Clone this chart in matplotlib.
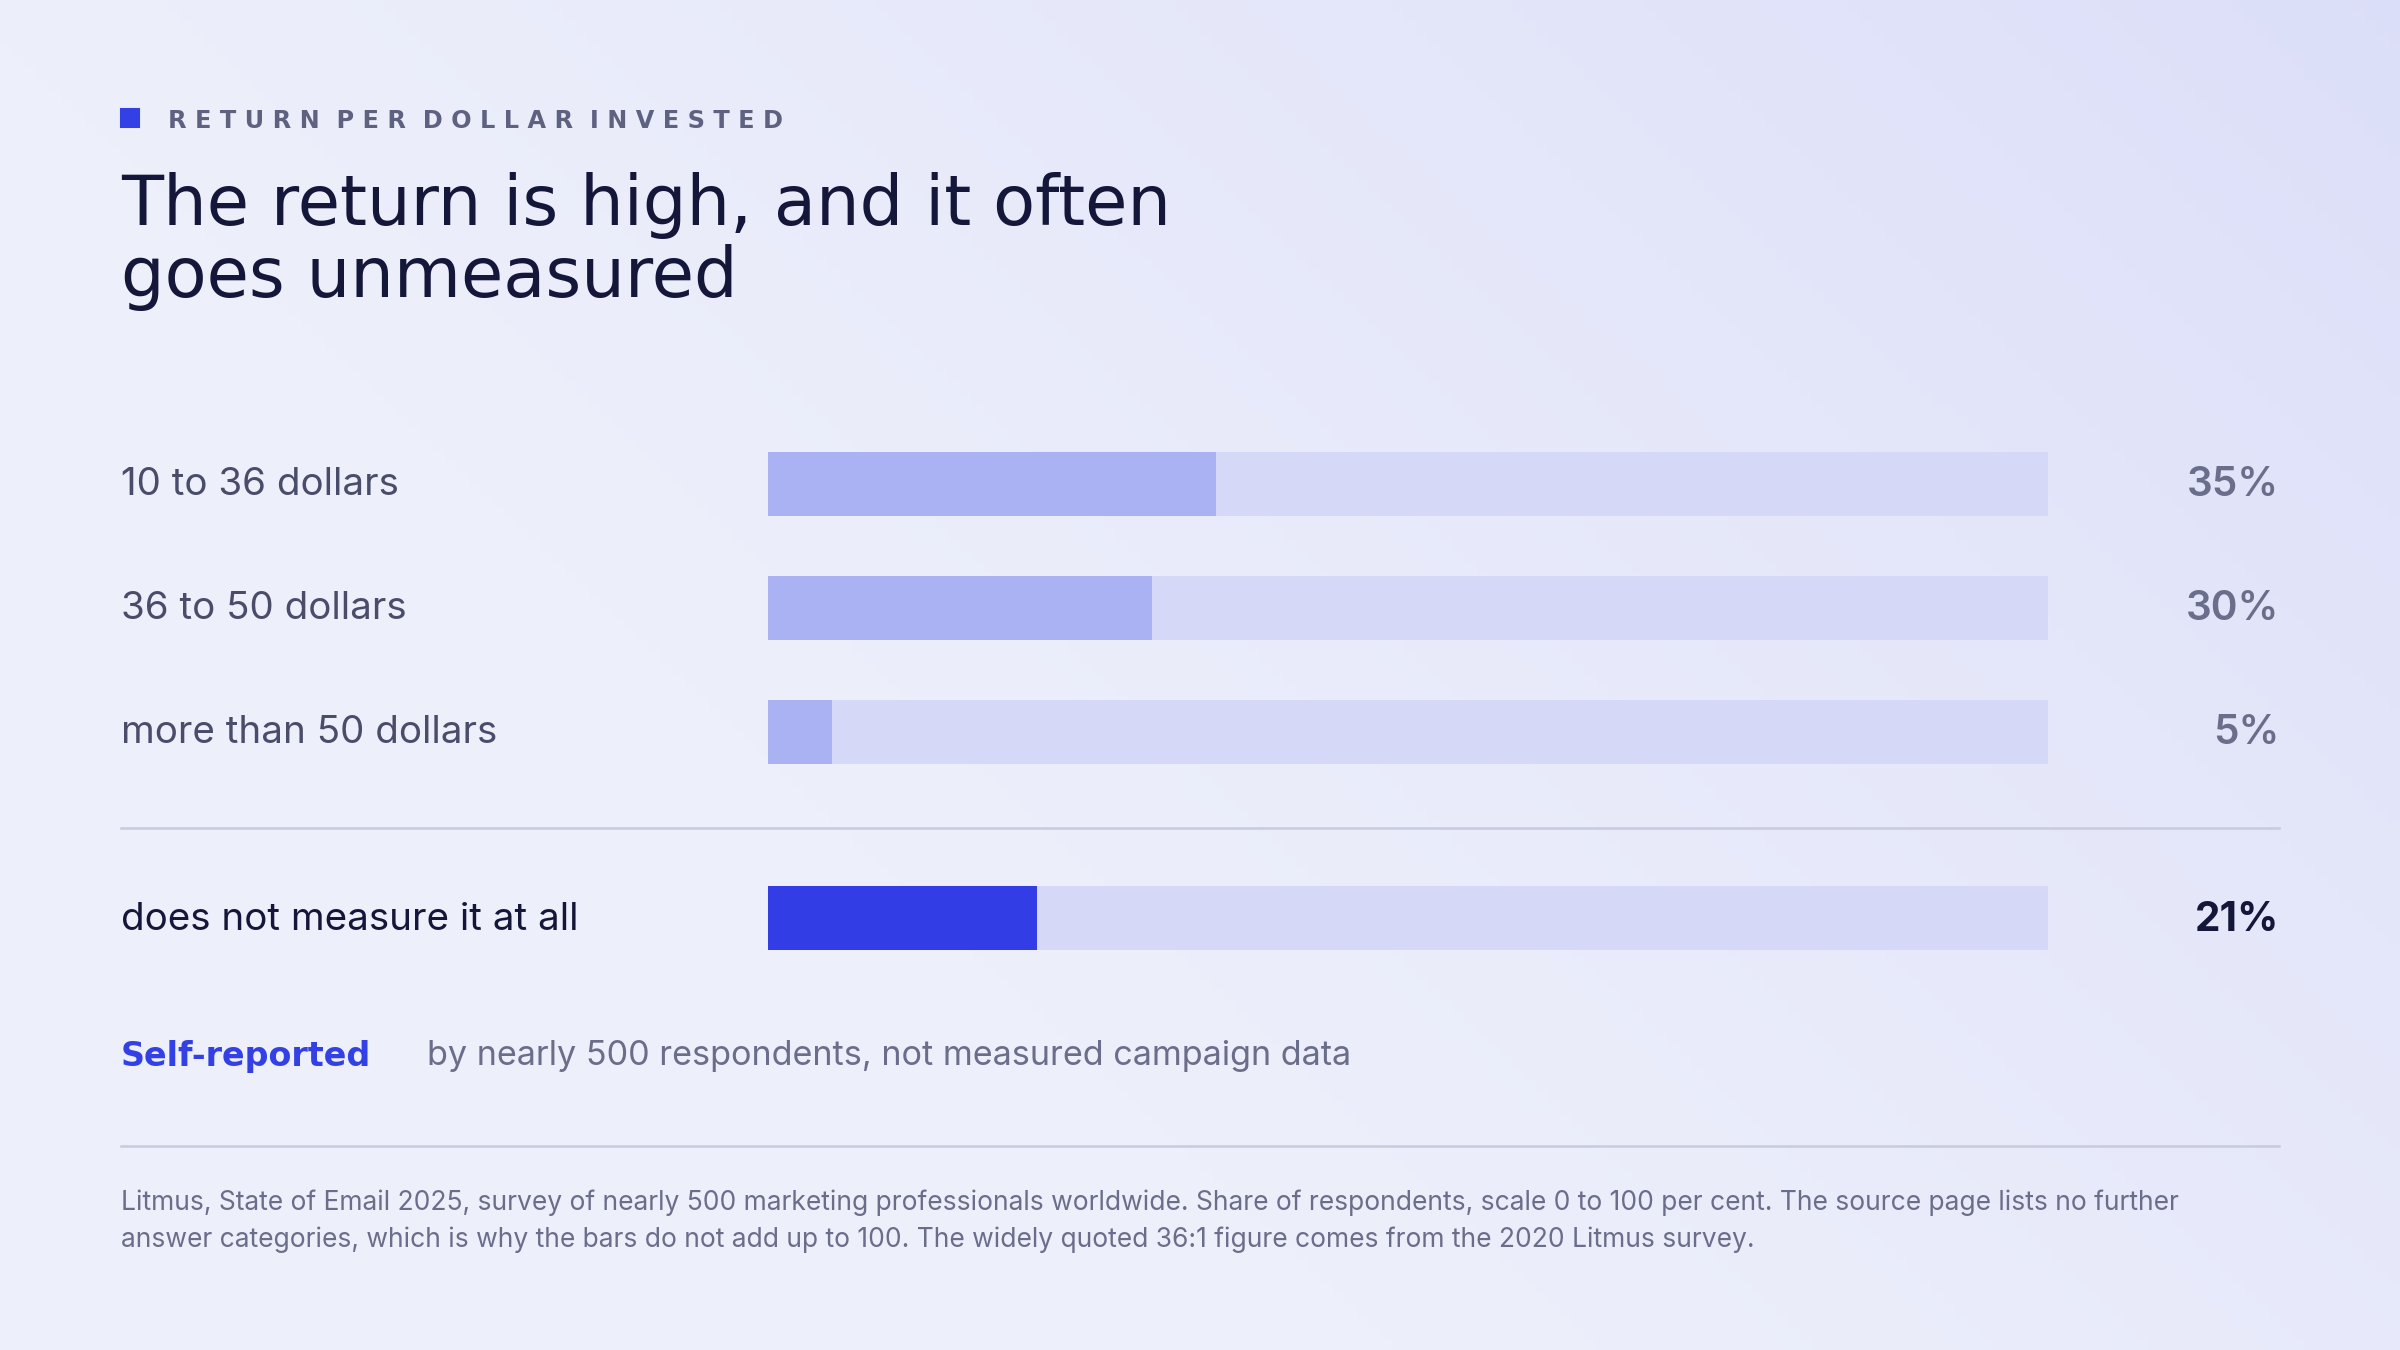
import matplotlib
matplotlib.use("Agg")
import matplotlib.pyplot as plt
import numpy as np

categories = ["10 to 36 dollars", "36 to 50 dollars", "more than 50 dollars", "does not measure it at all"]
values = [35, 30, 5, 21]
value_labels = ["35%", "30%", "5%", "21%"]
row_pos = [0, 1, 2, 3.5]

W, H = 1568, 882
fig = plt.figure(figsize=(16, 9), dpi=150)

# background gradient
bg = fig.add_axes([0, 0, 1, 1])
xx, yy = np.meshgrid(np.linspace(0, 1, 200), np.linspace(0, 1, 120))
t = np.clip(xx * 0.75 + (1 - yy) * 0.45 - 0.35, 0, 1) ** 1.3
c0 = np.array([0.933, 0.941, 0.984]); c1 = np.array([0.845, 0.857, 0.973])
img = c0 + (c1 - c0) * t[..., None]
bg.imshow(img, extent=[0, W, H, 0], aspect="auto")
bg.set_xlim(0, W); bg.set_ylim(H, 0); bg.axis("off")

font = "Inter"
dark = "#15173A"
bg.add_patch(plt.Rectangle((79, 71), 12, 12, color="#3340E6"))
header = "  ".join(" ".join(w) for w in "RETURN PER DOLLAR INVESTED".split(" "))
bg.text(110, 79, header, fontsize=11.5, color="#5E6180", va="center", family="DejaVu Sans", fontweight="semibold")
bg.text(79, 158, "The return is high, and it often\ngoes unmeasured", fontsize=33, color=dark,
        va="center", family="DejaVu Sans", fontweight="medium", linespacing=1.1)

for c, y, i in zip(categories, [316, 397, 478, 600], range(4)):
    bg.text(79, y + 1, c, fontsize=18.5, va="center", family=font,
            color="#4A4D6A" if i < 3 else dark)
    bg.text(1489, y + 1, value_labels[i], fontsize=19.5, va="center", ha="right", family=font,
            fontweight="bold" if i == 3 else "semibold",
            color="#6B6E8A" if i < 3 else dark)

for y in (541, 749):
    bg.plot([79, 1489], [y, y], color="#C8CADF", lw=1.2)

bg.text(79, 690, "Self-reported", fontsize=16, color="#3340E6", va="center", family="DejaVu Sans", fontweight="semibold")
bg.text(279, 690, "by nearly 500 respondents, not measured campaign data", fontsize=16.4,
        color="#6B6E8A", va="center", family=font)
bg.text(79, 798, "Litmus, State of Email 2025, survey of nearly 500 marketing professionals worldwide. Share of respondents, scale 0 to 100 per cent. The source page lists no further\nanswer categories, which is why the bars do not add up to 100. The widely quoted 36:1 figure comes from the 2020 Litmus survey.",
        fontsize=12.7, color="#6B6E8A", va="center", family=font, linespacing=1.5)

# bar axes
top_px, bot_px = 316 - 40.5, 600 + 40.5
ax = fig.add_axes([502 / W, 1 - bot_px / H, 836 / W, (bot_px - top_px) / H])
ax.set_xlim(0, 100); ax.set_ylim(4.0, -0.5)
ax.patch.set_alpha(0); ax.axis("off")
bh = 42 / 81
ax.barh(row_pos, [100] * 4, height=bh, color="#D5D8F6")
ax.barh(row_pos, values, height=bh, color=["#ABB2F3"] * 3 + ["#333DE6"])

fig.savefig("out.png", dpi=150)
